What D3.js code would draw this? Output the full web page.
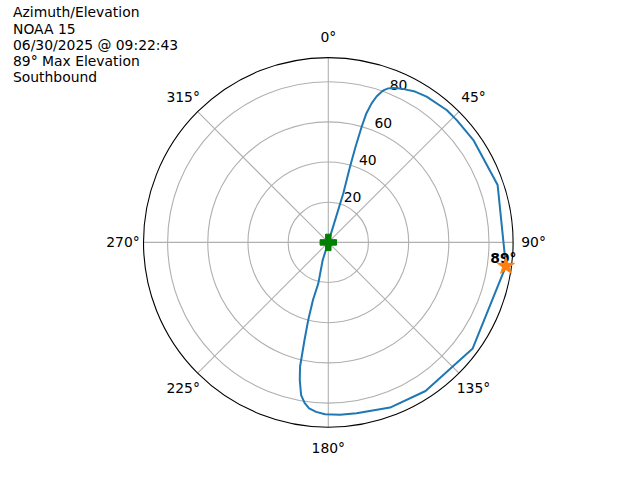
<!DOCTYPE html>
<html>
<head>
<meta charset="utf-8">
<script src="https://cdn.jsdelivr.net/npm/d3@7"></script>
<style>
  html, body { margin: 0; padding: 0; background: #fff; }
  text { font-family: "DejaVu Sans", sans-serif; }
</style>
</head>
<body>
<svg id="chart" width="640" height="480"></svg>
<script>
// ---- data ----
const titleLines = ["Azimuth/Elevation", "NOAA 15", "06/30/2025 @ 09:22:43", "89\u00B0 Max Elevation", "Southbound"];
const azimuth = [16, 17, 17, 16, 15.9, 16.1, 16.4, 17.3, 18.3, 19.5, 20.2, 21.3, 22.8, 24.3, 26.6, 29.9, 34, 41.8, 46.4, 54.8, 71.3, 97.6, 126.3, 146.8, 159.5, 170.6, 176.1, 181.1, 184.1, 186.6, 188.4, 190.1, 191.7, 192.8, 193.7, 194.5, 194.9, 193.7, 197.6, 196];
const elevation = [0, 12, 25.6, 39.2, 49.4, 59.9, 66.6, 72.5, 76.5, 79.6, 80.9, 82.3, 83.4, 84.2, 85.2, 86.6, 87.5, 88.4, 88.3, 88.4, 89, 89.2, 89.2, 88.4, 87.8, 86.2, 86.0, 85.6, 84.6, 83.2, 80.8, 77.2, 70.0, 63.5, 50, 39.9, 29.7, 21, 9.2, 0];
const maxPoint = { az: 97.6, el: 89.2, label: "89\u00B0" };
const startPoint = { az: 0, el: 0 };
const radialTicks = [20, 40, 60, 80];
const angleTicks = [0, 45, 90, 135, 180, 225, 270, 315];

// ---- layout ----
const svg = d3.select("#chart");
const cx = 328.3, cy = 242.4, R = 184.8;
const rScale = d3.scaleLinear().domain([0, 92]).range([0, R]);
const aScale = d3.scaleLinear().domain([0, 360]).range([0, 2 * Math.PI]);
const g = svg.append("g").attr("transform", `translate(${cx},${cy})`);

function xy(az, r) {
  const a = aScale(az), rr = rScale(r);
  return [rr * Math.sin(a), -rr * Math.cos(a)];
}

// grid circles
g.selectAll("circle.grid").data(radialTicks).enter().append("circle")
  .attr("r", d => rScale(d)).attr("fill", "none")
  .attr("stroke", "#b0b0b0").attr("stroke-width", 1.1);
// spokes
g.selectAll("line.spoke").data(angleTicks).enter().append("line")
  .attr("x1", 0).attr("y1", 0)
  .attr("x2", d => xy(d, 92)[0]).attr("y2", d => xy(d, 92)[1])
  .attr("stroke", "#b0b0b0").attr("stroke-width", 1.1);
// outer spine
g.append("circle").attr("r", R).attr("fill", "none").attr("stroke", "#000").attr("stroke-width", 1.1);

// angle labels
g.selectAll("text.ang").data(angleTicks).enter().append("text")
  .attr("x", d => Math.sin(aScale(d)) * (R + 20.5))
  .attr("y", d => -Math.cos(aScale(d)) * (R + 20.5))
  .attr("dy", "0.36em")
  .attr("text-anchor", "middle").attr("font-size", "13.9px").attr("fill", "#000")
  .text(d => d + "\u00B0");

// radial labels
g.selectAll("text.rad").data(radialTicks).enter().append("text")
  .attr("x", d => xy(22.5, d)[0])
  .attr("y", d => xy(22.5, d)[1] - 3.5)
  .attr("text-anchor", "start").attr("font-size", "13.9px").attr("fill", "#000")
  .text(d => d);

// track line
const pts = azimuth.map((a, i) => [aScale(a), rScale(elevation[i])]);
const line = d3.lineRadial().angle(d => d[0]).radius(d => d[1]);
g.append("path").attr("d", line(pts)).attr("fill", "none")
  .attr("stroke", "#1f77b4").attr("stroke-width", 2).attr("stroke-linejoin", "round");

// max label
const mp = xy(maxPoint.az, maxPoint.el);
g.append("text").attr("x", mp[0] - 2.5).attr("y", mp[1] - 3.2)
  .attr("text-anchor", "middle").attr("font-size", "13.9px").attr("font-weight", "bold")
  .attr("fill", "#000").text(maxPoint.label);
// star marker
g.append("path").attr("d", d3.symbol(d3.symbolStar, 90)())
  .attr("transform", `translate(${mp[0]},${mp[1]})`)
  .attr("fill", "#ff7f0e").attr("stroke", "#ff7f0e").attr("stroke-width", 1);
// start plus marker
const sp = xy(startPoint.az, startPoint.el);
g.append("path").attr("d", d3.symbol(d3.symbolCross, 150)())
  .attr("transform", `translate(${sp[0]},${sp[1]})`)
  .attr("fill", "#008000").attr("stroke", "#008000").attr("stroke-width", 1).attr("stroke-linejoin", "round");

// title text
svg.selectAll("text.title").data(titleLines).enter().append("text")
  .attr("x", 13).attr("y", (d, i) => 17.4 + i * 16.1)
  .attr("font-size", "13.9px").attr("fill", "#000")
  .text(d => d);
</script>
</body>
</html>
